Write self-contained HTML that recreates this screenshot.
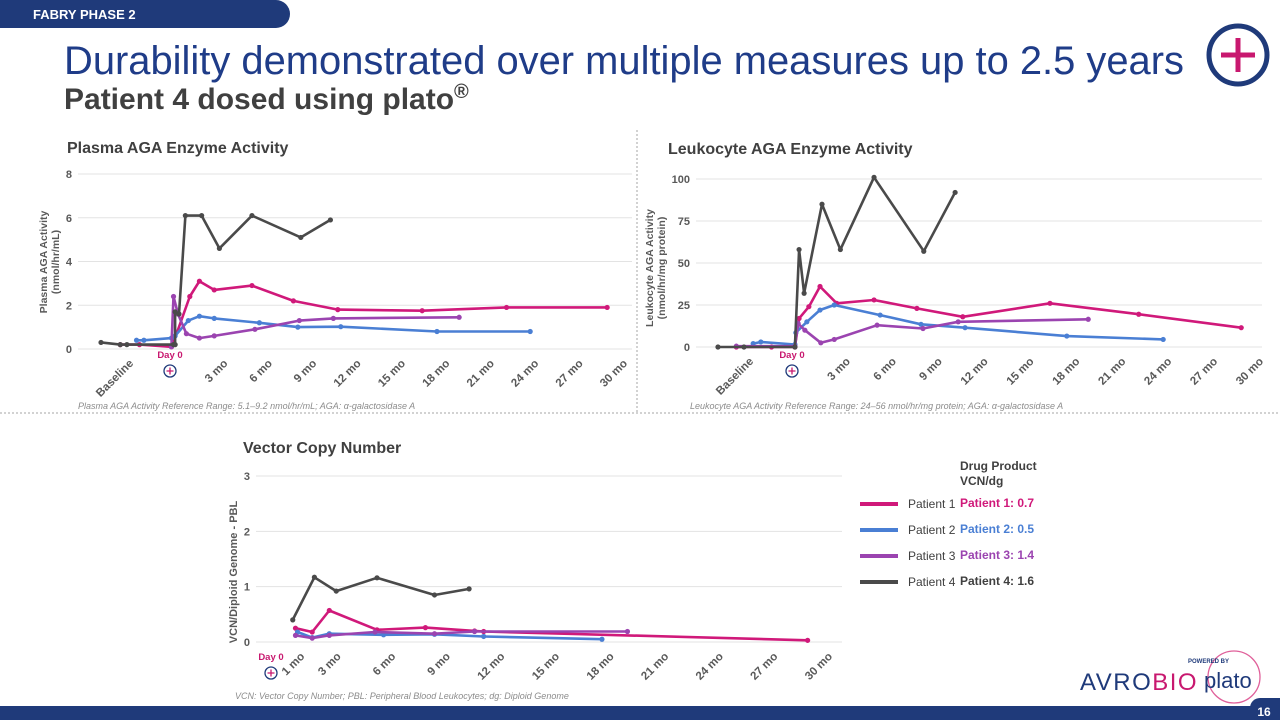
<!DOCTYPE html>
<html><head><meta charset="utf-8">
<style>
html,body{margin:0;padding:0;background:#fff;}
svg{display:block;font-family:"Liberation Sans",Arial,sans-serif;}
</style></head>
<body>
<svg id="slide" width="1280" height="720" viewBox="0 0 1280 720" xmlns="http://www.w3.org/2000/svg">
  <path d="M0 0 H276 A14 14 0 0 1 276 28 H0 Z" fill="#1f3a7a"/>
  <text x="33" y="19" fill="#fff" font-size="13" font-weight="bold">FABRY PHASE 2</text>
  <text x="64" y="74" fill="#1f3c88" font-size="40" textLength="1120" lengthAdjust="spacingAndGlyphs">Durability demonstrated over multiple measures up to 2.5 years</text>
  <text x="64" y="109" fill="#404040" font-size="30" font-weight="bold">Patient 4 dosed using plato<tspan font-size="20" dy="-11">®</tspan></text>
  <g>
    <circle cx="1238" cy="55" r="29" fill="none" stroke="#1f3a7a" stroke-width="5"/>
    <path d="M1238 38 V72 M1221 55 H1255" stroke="#c8186f" stroke-width="5"/>
  </g>
  <line x1="637" y1="130" x2="637" y2="412" stroke="#a6a6a6" stroke-dasharray="2,2"/>
  <line x1="0" y1="413" x2="1280" y2="413" stroke="#a6a6a6" stroke-dasharray="2,2"/>

  <text x="67" y="153" fill="#404040" font-size="16" font-weight="bold">Plasma AGA Enzyme Activity</text>
  <text x="668" y="154" fill="#404040" font-size="16" font-weight="bold">Leukocyte AGA Enzyme Activity</text>
  <text x="243" y="453" fill="#404040" font-size="16" font-weight="bold">Vector Copy Number</text>

  <text transform="translate(47,262) rotate(-90)" text-anchor="middle" fill="#595959" font-size="10.5" font-weight="bold">Plasma AGA Activity<tspan x="0" dy="12">(nmol/hr/mL)</tspan></text>
  <text transform="translate(653,268) rotate(-90)" text-anchor="middle" fill="#595959" font-size="10.5" font-weight="bold">Leukocyte AGA Activity<tspan x="0" dy="12">(nmol/hr/mg protein)</tspan></text>
  <text transform="translate(237,572) rotate(-90)" text-anchor="middle" fill="#595959" font-size="11" font-weight="bold">VCN/Diploid Genome - PBL</text>

  <text x="78" y="409" fill="#8c8c8c" font-size="9" font-style="italic">Plasma AGA Activity Reference Range: 5.1–9.2 nmol/hr/mL; AGA: α-galactosidase A</text>
  <text x="690" y="409" fill="#8c8c8c" font-size="9" font-style="italic">Leukocyte AGA Activity Reference Range: 24–56 nmol/hr/mg protein; AGA: α-galactosidase A</text>
  <text x="235" y="699" fill="#8c8c8c" font-size="9" font-style="italic">VCN: Vector Copy Number; PBL: Peripheral Blood Leukocytes; dg: Diploid Genome</text>

  <g id="plasma"></g>
  <g id="leuk"></g>
  <g id="vcn"></g>

  <g>
    <line x1="860" y1="504" x2="898" y2="504" stroke="#d0197a" stroke-width="4"/>
    <text x="908" y="508" fill="#404040" font-size="12">Patient 1</text>
    <line x1="860" y1="530" x2="898" y2="530" stroke="#4a7fd4" stroke-width="4"/>
    <text x="908" y="534" fill="#404040" font-size="12">Patient 2</text>
    <line x1="860" y1="556" x2="898" y2="556" stroke="#9b44b0" stroke-width="4"/>
    <text x="908" y="560" fill="#404040" font-size="12">Patient 3</text>
    <line x1="860" y1="582" x2="898" y2="582" stroke="#4a4a4a" stroke-width="4"/>
    <text x="908" y="586" fill="#404040" font-size="12">Patient 4</text>
  </g>
  <g font-size="12" font-weight="bold">
    <text x="960" y="470" fill="#404040">Drug Product<tspan x="960" dy="15">VCN/dg</tspan></text>
    <text x="960" y="507" fill="#d0197a">Patient 1: 0.7</text>
    <text x="960" y="533" fill="#4a7fd4">Patient 2: 0.5</text>
    <text x="960" y="559" fill="#9b44b0">Patient 3: 1.4</text>
    <text x="960" y="585" fill="#404040">Patient 4: 1.6</text>
  </g>

  <g>
    <text x="1080" y="690" fill="#1f3a7a" font-size="24" letter-spacing="1.5">AVRO<tspan fill="#c8186f">BIO</tspan></text>
    <circle cx="1234" cy="677" r="26" fill="none" stroke="#e0609a" stroke-width="1.3"/>
    <text x="1204" y="688" fill="#1f3a7a" font-size="22">plato</text>
    <text x="1188" y="663" fill="#1f3a7a" font-size="6" font-weight="bold">POWERED BY</text>
  </g>
  <rect x="0" y="706" width="1280" height="14" fill="#1f3a7a"/>
  <path d="M1250 720 V708 A10 10 0 0 1 1260 698 H1280 V720 Z" fill="#1f3a7a"/>
  <text x="1264" y="716" text-anchor="middle" fill="#fff" font-size="12" font-weight="bold">16</text>
</svg>
<script>
// ---------- Plasma data (x = months from dosing, y = nmol/hr/mL) ----------
const plasmaYTicks = [0, 2, 4, 6, 8];
const plasmaXTicks = [3, 6, 9, 12, 15, 18, 21, 24, 27, 30];
const plasmaP1x = [-3.7, -2.4, -0.24, -0.1, 1.0, 1.65, 2.65, 5.2, 8.0, 11.0, 16.7, 22.4, 29.2];
const plasmaP1y = [0.2, 0.2, 0.1, 0.3, 2.4, 3.1, 2.7, 2.9, 2.2, 1.8, 1.75, 1.9, 1.9];
const plasmaP2x = [-2.6, -2.1, -0.24, 0.01, 0.9, 1.65, 2.65, 5.7, 8.3, 11.2, 17.7, 24];
const plasmaP2y = [0.4, 0.4, 0.5, 0.6, 1.3, 1.5, 1.4, 1.2, 1.0, 1.02, 0.8, 0.8];
const plasmaP3x = [-0.24, -0.1, 0.2, 0.77, 1.65, 2.65, 5.4, 8.4, 10.7, 19.2];
const plasmaP3y = [0.1, 2.4, 1.6, 0.7, 0.5, 0.6, 0.9, 1.3, 1.4, 1.45];
const plasmaP4x = [-5, -3.7, -3.25, -0.1, 0.01, 0.01, 0.27, 0.7, 1.8, 3.0, 5.2, 8.5, 10.5];
const plasmaP4y = [0.3, 0.2, 0.2, 0.2, 0.2, 1.7, 1.6, 6.1, 6.1, 4.6, 6.1, 5.1, 5.9];

// ---------- Leukocyte data (nmol/hr/mg protein) ----------
const leukYTicks = [0, 25, 50, 75, 100];
const leukXTicks = [3, 6, 9, 12, 15, 18, 21, 24, 27, 30];
const leukP1x = [-3.9, -1.6, -0.07, 0.2, 0.84, 1.57, 2.66, 5.1, 7.9, 10.9, 16.6, 22.4, 29.1];
const leukP1y = [0, 0, 0, 17, 24, 36, 26, 28, 23, 18, 26, 19.5, 11.5];
const leukP2x = [-2.8, -2.3, -0.07, -0.01, 0.71, 1.57, 2.5, 5.5, 8.17, 11.05, 17.7, 24];
const leukP2y = [2, 3, 1.5, 8.5, 15, 22, 25, 19, 13.5, 11.5, 6.5, 4.5];
const leukP3x = [-3.9, -0.07, 0.14, 0.58, 1.62, 2.5, 5.3, 8.3, 10.6, 19.1];
const leukP3y = [0.5, 0.5, 14, 10, 2.5, 4.5, 13, 11, 15, 16.5];
const leukP4x = [-5.1, -3.4, -0.07, 0.2, 0.53, 1.7, 2.9, 5.1, 8.35, 10.4];
const leukP4y = [0, 0, 0, 58, 32, 85, 58, 101, 57, 92];

// ---------- VCN data ----------
const vcnYTicks = [0, 1, 2, 3];
const vcnXTicks = [1, 3, 6, 9, 12, 15, 18, 21, 24, 27, 30];
const vcnP1x = [0.96, 1.88, 2.82, 5.44, 8.1, 10.8, 11.3, 29.1];
const vcnP1y = [0.25, 0.18, 0.57, 0.22, 0.26, 0.2, 0.19, 0.03];
const vcnP2x = [1.07, 1.88, 2.82, 5.8, 8.6, 11.3, 17.8];
const vcnP2y = [0.18, 0.08, 0.15, 0.13, 0.14, 0.1, 0.05];
const vcnP3x = [0.96, 1.88, 2.82, 5.33, 8.6, 10.8, 19.2];
const vcnP3y = [0.12, 0.07, 0.12, 0.18, 0.15, 0.19, 0.19];
const vcnP4x = [0.81, 2.0, 3.2, 5.44, 8.6, 10.5];
const vcnP4y = [0.4, 1.17, 0.92, 1.16, 0.85, 0.96];

const COLORS = ['#d0197a', '#4a7fd4', '#9b44b0', '#4a4a4a'];
const NS = 'http://www.w3.org/2000/svg';
function mk(tag, attrs, parent) {
  const e = document.createElementNS(NS, tag);
  for (const k in attrs) e.setAttribute(k, attrs[k]);
  parent.appendChild(e);
  return e;
}

function drawChart(g, cfg, series, prefix) {
  const xs = m => cfg.x0 + cfg.xPer * m;
  const ys = v => cfg.yBase - (v / cfg.yMax) * (cfg.yBase - cfg.yTop);
  cfg.yTicks.forEach(t => {
    const l = mk('line', {x1: cfg.gx1, x2: cfg.gx2, y1: ys(t), y2: ys(t), stroke: '#e3e3e3', 'stroke-width': 1}, g);
    
    
    const tx = mk('text', {x: cfg.gx1 - 6, y: ys(t) + 4, 'text-anchor': 'end', fill: '#595959', 'font-size': 11, 'font-weight': 'bold'}, g);
    tx.textContent = t;
    
    
  });
  cfg.xTicks.forEach(t => {
    const px = xs(t) + 9, py = cfg.yBase + 15;
    const tx = mk('text', {x: px, y: py, 'text-anchor': 'end', fill: '#595959', 'font-size': 11.5, 'font-weight': 'bold', transform: `rotate(-45 ${px} ${py})`}, g);
    tx.textContent = t + ' mo';
    
    
  });
  if (cfg.baseline) {
    const px = cfg.baseline, py = cfg.yBase + 15;
    const tx = mk('text', {x: px, y: py, 'text-anchor': 'end', fill: '#595959', 'font-size': 11.5, 'font-weight': 'bold', transform: `rotate(-45 ${px} ${py})`}, g);
    tx.textContent = 'Baseline';
    
    
  }
  const d0 = mk('text', {x: cfg.day0x, y: cfg.day0y, 'text-anchor': 'middle', fill: '#c8186f', 'font-size': 9.5, 'font-weight': 'bold'}, g);
  d0.textContent = 'Day 0';
  
  
  const dc = mk('g', {}, g);
  
  
  mk('circle', {cx: cfg.day0x, cy: cfg.day0y + 13, r: 6, fill: 'none', stroke: '#1f3a7a', 'stroke-width': 1.3}, dc);
  mk('path', {d: `M${cfg.day0x} ${cfg.day0y + 9.5} v7 M${cfg.day0x - 3.5} ${cfg.day0y + 13} h7`, stroke: '#c8186f', 'stroke-width': 1.3}, dc);

  series.forEach((s, i) => {
    const pts = s[0].map((m, j) => xs(m).toFixed(1) + ',' + ys(s[1][j]).toFixed(1)).join(' ');
    const pl = mk('polyline', {points: pts, fill: 'none', stroke: COLORS[i], 'stroke-width': 2.6, 'stroke-linejoin': 'round'}, g);
    
    
    s[0].forEach((m, j) => {
      const c = mk('circle', {cx: xs(m), cy: ys(s[1][j]), r: 2.6, fill: COLORS[i]}, g);
      
      
    });
  });
}

drawChart(document.getElementById('plasma'),
  {x0: 175, xPer: 14.8, yBase: 349, yTop: 174, yMax: 8, gx1: 78, gx2: 632,
   yTicks: plasmaYTicks, xTicks: plasmaXTicks, baseline: 134, day0x: 170, day0y: 358},
  [[plasmaP1x, plasmaP1y], [plasmaP2x, plasmaP2y], [plasmaP3x, plasmaP3y], [plasmaP4x, plasmaP4y]], 'plasma');

drawChart(document.getElementById('leuk'),
  {x0: 796, xPer: 15.3, yBase: 347, yTop: 179, yMax: 100, gx1: 696, gx2: 1262,
   yTicks: leukYTicks, xTicks: leukXTicks, baseline: 754, day0x: 792, day0y: 358},
  [[leukP1x, leukP1y], [leukP2x, leukP2y], [leukP3x, leukP3y], [leukP4x, leukP4y]], 'leukocyte');

drawChart(document.getElementById('vcn'),
  {x0: 278, xPer: 18.2, yBase: 642, yTop: 476, yMax: 3, gx1: 256, gx2: 842,
   yTicks: vcnYTicks, xTicks: vcnXTicks, baseline: 0, day0x: 271, day0y: 660},
  [[vcnP1x, vcnP1y], [vcnP2x, vcnP2y], [vcnP3x, vcnP3y], [vcnP4x, vcnP4y]], 'vcn');
</script>
</body></html>
